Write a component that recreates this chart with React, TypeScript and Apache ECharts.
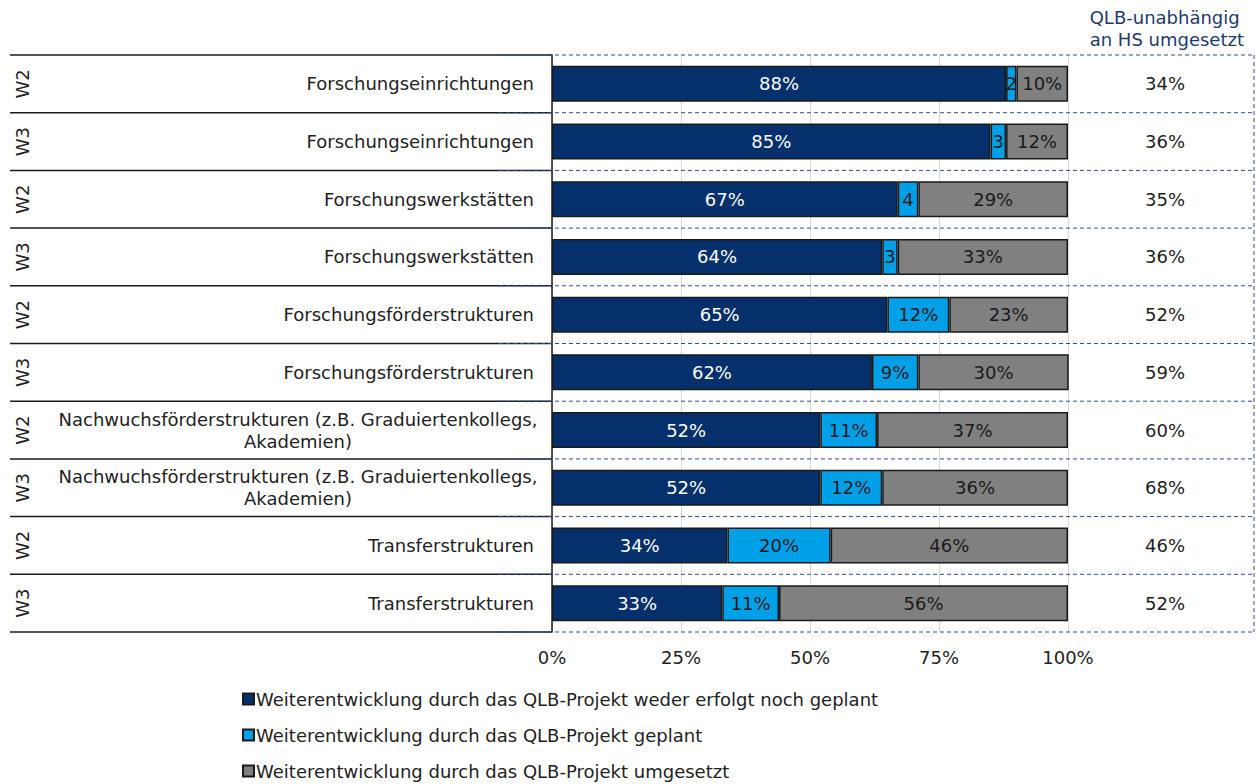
import React, { useEffect, useRef } from "react";
import * as echarts from "echarts";

const categories = [
  "Forschungseinrichtungen",
  "Forschungseinrichtungen",
  "Forschungswerkstätten",
  "Forschungswerkstätten",
  "Forschungsförderstrukturen",
  "Forschungsförderstrukturen",
  "Nachwuchsförderstrukturen (z.B. Graduiertenkollegs,\nAkademien)",
  "Nachwuchsförderstrukturen (z.B. Graduiertenkollegs,\nAkademien)",
  "Transferstrukturen",
  "Transferstrukturen",
];
const waves = ["W2", "W3", "W2", "W3", "W2", "W3", "W2", "W3", "W2", "W3"];
const weder = [88, 85, 67, 64, 65, 62, 52, 52, 34, 33];
const geplant = [2, 3, 4, 3, 12, 9, 11, 12, 20, 11];
const umgesetzt = [10, 12, 29, 33, 23, 30, 37, 36, 46, 56];
const unabhaengig = [34, 36, 35, 36, 52, 59, 60, 68, 46, 52];
const seriesNames = [
  "Weiterentwicklung durch das QLB-Projekt weder erfolgt noch geplant",
  "Weiterentwicklung durch das QLB-Projekt geplant",
  "Weiterentwicklung durch das QLB-Projekt umgesetzt",
];
const xTicks = [0, 25, 50, 75, 100];
const headerText = "QLB-unabhängig\nan HS umgesetzt";

const FONT = "DejaVu Sans";
const FS = 18;
const GRID_LEFT = 552;
const GRID_RIGHT = 1068;
const GRID_TOP = 55;
const GRID_BOTTOM = 632;

export default function App() {
  const ref = useRef<HTMLDivElement>(null);
  useEffect(() => {
    if (!ref.current) return;
    const chart = echarts.init(ref.current, undefined, { renderer: "svg" });
    const n = categories.length;
    const rowH = (GRID_BOTTOM - GRID_TOP) / n;
    const graphics: any[] = [];
    for (let i = 0; i <= n; i++) {
      const y = GRID_TOP + i * rowH;
      graphics.push({
        type: "line",
        shape: { x1: 10, y1: y, x2: GRID_LEFT, y2: y },
        style: { stroke: "#1a1a1a", lineWidth: 1.5 },
        z: 10,
      });
      graphics.push({
        type: "line",
        shape: { x1: 499, y1: y, x2: 1254, y2: y },
        style: { stroke: "#2f4f8f", lineWidth: 1, lineDash: [4, 3] },
        z: 11,
      });
    }
    graphics.push({
      type: "line",
      shape: { x1: 1254, y1: GRID_TOP, x2: 1254, y2: GRID_BOTTOM },
      style: { stroke: "#2f4f8f", lineWidth: 1, lineDash: [4, 3] },
      z: 11,
    });
    graphics.push({
      type: "text",
      right: 14,
      top: 6,
      style: {
        text: headerText,
        align: "right",
        fill: "#1f3a6e",
        font: `${FS}px '${FONT}'`,
        lineHeight: 22,
      },
    });

    const fmt = (p: any) => (p.value < 5 ? `${p.value}` : `${p.value}%`);
    const colors = ["#06306b", "#00a0e9", "#808080"];
    const datas = [weder, geplant, umgesetzt];

    chart.setOption({
      animation: false,
      textStyle: { fontFamily: FONT },
      grid: {
        left: GRID_LEFT,
        right: 1258 - GRID_RIGHT,
        top: GRID_TOP,
        bottom: 784 - GRID_BOTTOM,
        containLabel: false,
      },
      xAxis: {
        type: "value",
        min: 0,
        max: 100,
        interval: 25,
        axisLine: { show: false },
        axisTick: { show: false },
        splitLine: { show: true, lineStyle: { color: "#d9d9d9", width: 1 } },
        axisLabel: {
          formatter: (v: number) => (xTicks.includes(v) ? `${v}%` : ""),
          fontSize: FS,
          color: "#222",
          margin: 16,
          fontFamily: FONT,
        },
      },
      yAxis: [
        {
          type: "category",
          data: categories,
          inverse: true,
          position: "left",
          axisLine: { show: true, lineStyle: { color: "#1a1a1a", width: 1.5 } },
          axisTick: { show: false },
          axisLabel: {
            fontSize: FS,
            color: "#222",
            margin: 4,
            fontFamily: FONT,
            lineHeight: 22,
            formatter: (v: string) => {
              if (v.includes("\n")) {
                const [a, b] = v.split("\n");
                return `{c|${a}}\n{c|${b}}`;
              }
              return `{n|${v}}`;
            },
            rich: {
              c: {
                width: 500,
                align: "center",
                fontSize: FS,
                color: "#222",
                fontFamily: FONT,
                lineHeight: 22,
              },
              n: {
                padding: [0, 14, 0, 0],
                fontSize: FS,
                color: "#222",
                fontFamily: FONT,
              },
            },
          },
        },
        {
          type: "category",
          data: unabhaengig.map((v) => `${v}%`),
          inverse: true,
          position: "right",
          axisLine: { show: false },
          axisTick: { show: false },
          axisLabel: {
            fontSize: FS,
            color: "#222",
            margin: 97,
            align: "center",
            fontFamily: FONT,
          },
        },
        {
          type: "category",
          data: waves,
          inverse: true,
          position: "left",
          offset: 521,
          axisLine: { show: false },
          axisTick: { show: false },
          axisLabel: {
            fontSize: FS,
            color: "#222",
            margin: 0,
            rotate: 90,
            fontFamily: FONT,
          },
        },
      ],
      legend: {
        orient: "vertical",
        left: 242,
        top: 690,
        height: 94,
        padding: 0,
        itemWidth: 11,
        itemHeight: 11,
        itemGap: 18,
        icon: "rect",
        textStyle: { fontSize: FS, color: "#222", fontFamily: FONT, padding: [0, 0, 0, -3] },
        data: seriesNames,
      },
      series: datas.map((d, i) => ({
        name: seriesNames[i],
        type: "bar",
        stack: "total",
        yAxisIndex: 0,
        barWidth: 36,
        data: d,
        itemStyle: { color: colors[i], borderColor: "#1a1a1a", borderWidth: 1.5 },
        label: {
          show: true,
          position: "inside",
          formatter: fmt,
          color: i === 0 ? "#ffffff" : "#1a1a1a",
          fontSize: FS,
          fontFamily: FONT,
        },
      })),
      graphic: graphics,
    });
    return () => chart.dispose();
  }, []);
  return (
    <div
      ref={ref}
      style={{ position: "absolute", left: 0, top: 0, width: 1258, height: 784 }}
    />
  );
}
